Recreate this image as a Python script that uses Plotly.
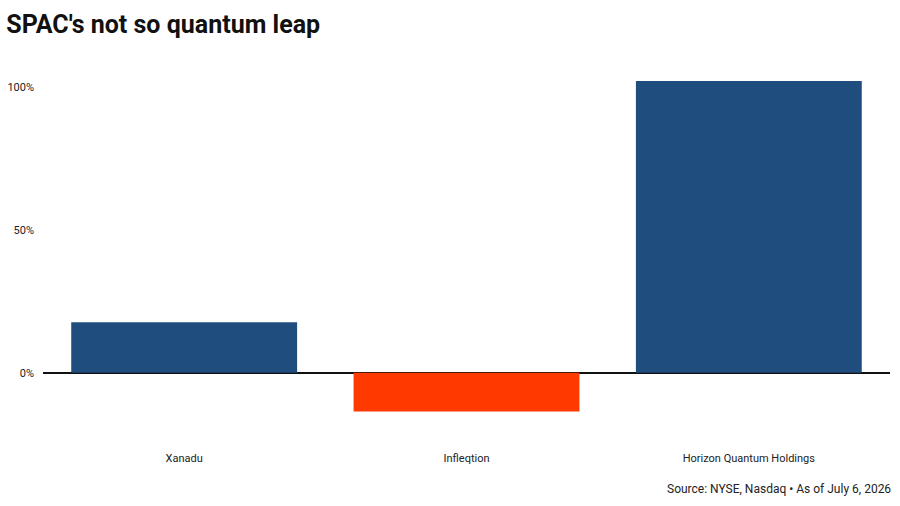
import plotly.graph_objects as go

categories = ["Xanadu", "Infleqtion", "Horizon Quantum Holdings"]
values = [17.6, -13.6, 102.0]
colors = ["#1f4e7e", "#ff3a00", "#1f4e7e"]
tick_vals = [0, 50, 100]
tick_text = ["0%", "50%", "100%"]

fig = go.Figure(go.Bar(x=categories, y=values, marker=dict(color=colors, line=dict(width=0)),
                       hoverinfo="skip"))

fig.update_layout(
    width=900, height=506,
    margin=dict(l=43, r=10, t=70, b=60),
    plot_bgcolor="white", paper_bgcolor="white",
    bargap=0.2,
    showlegend=False,
    font=dict(family="Roboto", color="#222222", size=11),
    title=dict(text="<b>SPAC's not so quantum leap</b>", x=0.007, xanchor="left", y=0.953, yanchor="middle",
               font=dict(family="Roboto", size=25, color="#111111")),
    annotations=[dict(text="Source: NYSE, Nasdaq • As of July 6, 2026", xref="paper", yref="paper",
                      x=(893-43)/847, xanchor="right", y=-(489-446)/376, yanchor="middle",
                      showarrow=False, font=dict(family="Roboto", size=12, color="#222222"))],
)
fig.update_xaxes(showgrid=False, showline=False, ticks="", automargin=False, ticklabelstandoff=4,
                 tickfont=dict(size=11, color="#222222"))
fig.update_yaxes(range=[-25.63, 105.84], tickvals=tick_vals, ticktext=tick_text, showgrid=False,
                 zeroline=True, zerolinecolor="#111111", zerolinewidth=2, showline=False,
                 ticks="", automargin=False, ticklabelstandoff=8, tickfont=dict(size=11, color="#222222"))

fig.write_html("out.html")
